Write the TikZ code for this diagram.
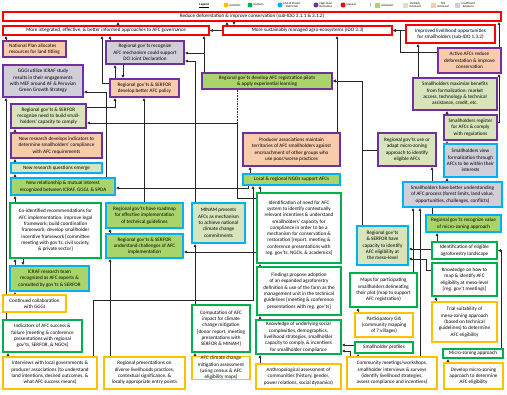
\documentclass[tikz,border=0pt]{standalone}
\usepackage{fontspec}
\setmainfont{Carlito}
\usepackage{tikz}
\usetikzlibrary{arrows.meta, positioning, calc}
\pgfdeclarelayer{bg}
\pgfsetlayers{bg,main}

\definecolor{impred}{HTML}{FF0000}
\definecolor{hlpurple}{HTML}{7030A0}
\definecolor{eopblue}{HTML}{00B0F0}
\definecolor{outgreen}{HTML}{00B050}
\definecolor{actorange}{HTML}{FFC000}
\definecolor{achvfill}{HTML}{A9D46C}
\definecolor{pachfill}{HTML}{D8E4BC}
\definecolor{nachfill}{HTML}{F8CBAD}
\definecolor{insffill}{HTML}{D0CED6}

\tikzset{
  box/.style={draw, line width=2.2pt, align=center, inner xsep=1pt, inner ysep=0pt,
    font=\fontsize{7.3}{9}\selectfont, fill=white},
  impact/.style={box, draw=impred},
  hlo/.style={box, draw=hlpurple},
  eop/.style={box, draw=eopblue},
  outp/.style={box, draw=outgreen},
  activ/.style={box, draw=actorange},
  achv/.style={fill=achvfill},
  pach/.style={fill=pachfill},
  nach/.style={fill=nachfill},
  insf/.style={fill=insffill},
  link/.style={draw=black!85, line width=1.3pt, -{Latex[length=4.5pt,width=4.5pt]}},
  lgd/.style={font=\fontsize{4.3}{4.6}\selectfont, align=center, inner sep=0.5pt, anchor=west},
  lgdot/.style={circle, inner sep=0pt, minimum size=0.25cm},
  lgsq/.style={rectangle, inner sep=0pt, minimum size=0.25cm}
}

% box from its corners (pixel units)
\newcommand\tocbox[7]{%
  \pgfmathsetmacro\bxc{(#3+#5)/2}\pgfmathsetmacro\byc{(#4+#6)/2}%
  \pgfmathsetmacro\bxw{(#5-#3)*0.05}\pgfmathsetmacro\bxh{(#6-#4)*0.05}%
  \node[#2, minimum width=\bxw cm, minimum height=\bxh cm] (#1) at (\bxc,\byc) {#7};}

\begin{document}
\begin{tikzpicture}[x=0.05cm, y=-0.05cm]
  \useasboundingbox (0,0) rectangle (507,394);

  % legend
  \node[lgd, font=\fontsize{4.5}{5}\selectfont\bfseries] (legend) at (199,5) {\underline{Legend}};
  \node[lgdot, fill=actorange] (dotact) at (226,5) {};
  \node[lgd] (lgact) at (229,5) {Activities};
  \node[lgdot, fill=outgreen] (dotout) at (250,5) {};
  \node[lgd] (lgout) at (253,5) {Outputs};
  \node[lgdot, fill=eopblue] (doteop) at (280,5) {};
  \node[lgd] (lgeop) at (283,5) {End of Project\\Outcomes};
  \node[lgdot, fill=hlpurple] (dothlo) at (316,5) {};
  \node[lgd] (lghlo) at (319,5) {High-level\\Outcomes};
  \node[lgdot, fill=impred] (dotimp) at (343,5) {};
  \node[lgd] (lgimp) at (346,5) {Impacts};
  \node[lgd, font=\fontsize{6}{6}\selectfont] (lgsep) at (369,5) {|};
  \node[lgsq, fill=achvfill] (sqachv) at (377,5) {};
  \node[lgd] (lgachv) at (381,5) {Achieved};
  \node[lgsq, fill=pachfill] (sqpach) at (405,5) {};
  \node[lgd] (lgpach) at (409,5) {Partially\\Achieved};
  \node[lgsq, fill=nachfill] (sqnach) at (433,5) {};
  \node[lgd] (lgnach) at (437,5) {Not\\Achieved};
  \node[lgsq, fill=insffill] (sqinsf) at (457,5) {};
  \node[lgd] (lginsf) at (461,5) {Insufficient\\Evidence};

  % impacts
  \tocbox{reduce}{impact}{3}{12}{501}{21}{Reduce deforestation \& improve conservation (sub-IDO 3.1.1 \& 3.1.2)}
  \tocbox{integ}{impact}{3}{26}{209}{35}{More integrated, effective, \& better informed approaches to AFC governance}
  \tocbox{sustain}{impact}{223}{26}{392}{35}{More sustainably managed agro-ecosystems (IDO 3.3)}
  \tocbox{livel}{impact}{406}{25}{495}{43}{Improved livelihood opportunities\\for smallholders (sub-IDO 1.3.2)}

  % high-level outcomes
  \tocbox{natplan}{hlo,nach,align=left}{3}{41}{66}{57}{National Plan allocates\\resources for land titling}
  \tocbox{dci}{hlo,insf}{106}{41}{184}{64}{Regional gov'ts recognize\\AFC mechanism could support\\DCI Joint Declaration}
  \tocbox{gggi}{hlo,insf}{3}{65}{83}{97}{GGGI utilize ICRAF study\\results in their engagements\\with MEF around AF \& Peruvian\\Green Growth Strategy}
  \tocbox{policy}{hlo,nach}{110}{79}{179}{97}{Regional gov'ts \& SERFOR\\develop better AFC policy}
  \tocbox{pilots}{hlo,achv}{202}{73}{332}{89}{Regional gov'ts develop AFC registration pilots\\\& apply experiential learning}
  \tocbox{active}{hlo,nach}{438}{48}{501}{73}{Active AFCs reduce\\deforestation \& improve\\conservation}
  \tocbox{maxim}{hlo,pach}{413}{78}{497}{110}{Smallholders maximize benefits\\from formalization: market\\access, technology \& technical\\assistance, credit, etc.}
  \tocbox{needcap}{hlo,pach}{11}{104}{86}{128}{Regional gov'ts \& SERFOR\\recognize need to build small-\\holders' capacity to comply}
  \tocbox{indic}{hlo,nach}{11}{133}{102}{158}{New research develops indicators to\\determine smallholders' compliance\\with AFC requirements}
  \tocbox{producer}{hlo,nach}{243}{133}{340}{166}{Producer associations maintain\\territories of AFC smallholders against\\encroachment of other groups who\\use poor/worse practices}
  \tocbox{register}{hlo,pach}{444}{115}{497}{140}{Smallholders register\\for AFCs \& comply\\with regulations}
  \tocbox{usemz}{hlo,pach}{378}{133}{436}{166}{Regional gov'ts use or\\adapt micro-zoning\\approach to identify\\eligible AFCs}

  % end of project outcomes
  \tocbox{view}{eop,insf}{444}{144}{497}{177}{Smallholders view\\formalization through\\AFCs to be within their\\interests}
  \tocbox{questions}{eop,pach}{11}{163}{102}{173}{New research questions emerge}
  \tocbox{ngos}{eop,achv}{243}{174}{340}{185}{Local \& regional NGOs support AFCs}
  \tocbox{relation}{eop,achv}{11}{178}{115}{195}{New relationship \& mutual interest\\recognized between ICRAF, GGGI, \& SPDA}
  \tocbox{underst}{eop,insf}{403}{182}{502}{207}{Smallholders have better understanding\\of AFC process (forest limits, land value,\\opportunities, challenges, conflicts)}
  \tocbox{roadmap}{eop,achv}{106}{203}{183}{228}{Regional gov'ts have roadmap\\for effective implementation\\of technical guidelines}
  \tocbox{minam}{eop,pach}{192}{203}{245}{243}{MINAM presents\\AFCs as mechanism\\to achieve national\\climate change\\commitments}
  \tocbox{recval}{eop,achv}{426}{215}{501}{232}{Regional gov'ts recognize value\\of micro-zoning approach}
  \tocbox{challenges}{eop,achv}{106}{234}{183}{258}{Regional gov'ts \& SERFOR\\understand challenges of AFC\\implementation}
  \tocbox{capacity}{eop,pach}{357}{226}{408}{265}{Regional gov'ts\\\& SERFOR have\\capacity to identify\\AFC eligibility at\\the meso-level}
  \tocbox{icraf}{eop,achv}{10}{266}{89}{291}{ICRAF research team\\recognized as AFC experts \&\\consulted by gov'ts \& SERFOR}

  % outputs
  \tocbox{coid}{outp}{10}{203}{101}{258}{Co-identified recommendations for\\AFC implementation: improve legal\\framework; build coordination\\framework; develop smallholder\\incentive framework {[committee}\\meeting with gov'ts, civil society,\\\& private sector]}
  \tocbox{need}{outp}{257}{193}{341}{263}{Identification of need for AFC\\system to identify contextually\\relevant incentives \& understand\\smallholders' capacity for\\compliance in order to be a\\mechanism for conservation \&\\restoration {[report}, meeting \&\\conference presentations with\\reg. gov'ts, NGOs, \& academics]}
  \tocbox{eligible}{outp}{432}{242}{497}{259}{Identification of eligible\\agroforestry landscape}
  \tocbox{knowmap}{outp}{432}{263}{497}{296}{Knowledge on how to\\map \& identify AFC\\eligibility at meso-level\\{[reg. gov't meetings]}}
  \tocbox{findings}{outp}{257}{267}{341}{315}{Findings propose adoption\\of an expanded agroforestry\\definition \& use of the farm as the\\management unit in the technical\\guidelines {[meeting} \& conference\\presentations with reg. gov'ts]}
  \tocbox{maps}{outp}{350}{273}{417}{307}{Maps for participating\\smallholders delineating\\their plot (map to support\\AFC registration)}
  \tocbox{comput}{outp}{192}{305}{250}{352}{Computation of AFC\\impact for climate\\change mitigation\\{[donor report, meeting}\\presentations with\\SERFOR \& MINAM]}
  \tocbox{indicat}{outp}{3}{320}{82}{352}{Indicators of AFC success \&\\failure {[meeting} \& conference\\presentations with regional\\gov'ts, SERFOR, \& NGOs]}
  \tocbox{social}{outp}{256}{320}{341}{354}{Knowledge of underlying social\\complexities, demographics,\\livelihood strategies, smallholder\\capacity to comply, \& incentives\\for smallholder compliance}
  \tocbox{profiles}{outp}{355}{342}{413}{353}{Smallholder profiles}
  \tocbox{microz}{outp}{443}{349}{503}{358}{Micro-zoning approach}

  % activities
  \tocbox{collab}{activ}{3}{295}{66}{312}{Continued collaboration\\with GGGI}
  \tocbox{trial}{activ}{432}{302}{497}{342}{Trial suitability of\\meso-zoning approach\\(based on technical\\guidelines) to determine\\AFC eligibility}
  \tocbox{gis}{activ}{355}{313}{413}{337}{Participatory GIS\\(community mapping\\of 7 villages)}
  \tocbox{interv}{activ}{3}{357}{97}{389}{Interviews with local governments \&\\producer associations (to understand\\land intentions, desired outcomes, \&\\what AFC success means)}
  \tocbox{present}{activ}{104}{357}{185}{389}{Regional presentations on\\diverse livelihoods practices,\\contextual significance, \&\\locally appropriate entry points}
  \tocbox{assess}{activ}{192}{357}{250}{379}{AFC climate change\\mitigation assessment\\(using census \& AFC\\eligibility maps)}
  \tocbox{anthro}{activ}{256}{364}{341}{389}{Anthropological assessment of\\communities (history, gender,\\power relations, social dynamics)}
  \tocbox{commun}{activ}{347}{357}{437}{389}{Community meetings/workshops,\\smallholder interviews \& surveys\\(identify livelihood strategies,\\assess compliance and incentives)}
  \tocbox{devmz}{activ}{444}{363}{503}{389}{Develop micro-zoning\\approach to determine\\AFC eligibility}

  \begin{pgfonlayer}{bg}
    % top of the chain
    \draw[link] (integ.north -| 118,0) -- (reduce.south -| 118,0);
    \draw[link] (sustain.north -| 227,0) -- (reduce.south -| 227,0);
    \draw[link] (reduce.south -| 234,0) -- (sustain.north -| 234,0);
    \draw[link] (active.north -| 499,0) -- (reduce.south -| 499,0);
    \draw[link] (sustain.west) -- (integ.east);
    \draw[link] (livel.west |- sustain) -- (sustain.east);
    \draw[link] (active.west |- 0,52) -| (sustain.east -| 400,0) -- (sustain.east);
    \draw[link] (maxim.north -| 418,0) -- (livel.south -| 418,0);
    \draw[link] (register.north -| 447,0) -- (maxim.south -| 447,0);
    \draw[link] (view.north -| 447,0) -- (register.south -| 447,0);
    \draw[link] (underst.north -| 447,0) -- (view.south -| 447,0);
    \draw[link] (register.east |- 0,122) -| (499,0 |- active.south);
    \draw[link] (producer.north -| 337,0) -- (sustain.south -| 337,0);

    % pilots and policy
    \draw[link] (capacity.north -| 362,0) |- (pilots.east);
    \draw[link] (usemz.west |- 0,150) -| (pilots.east -| 362,0) -- (pilots.east);
    \draw[link] (pilots.north -| 204,0) -- (integ.south -| 204,0);
    \draw[link] (pilots.north -| 204,0) |- (dci.east |- 0,53);
    \draw[draw=black!85, line width=1.3pt, densely dotted] (pilots.south -| 237,0) -- (237,123);
    \draw[link] (need.west |- 0,198) -| (237,123) -- (needcap.east |- 0,123);
    \draw[link] (needcap.east |- 0,107) -| (policy.south -| 115,0);
    \draw[link] (policy.north -| 115,0) -- (dci.south -| 115,0);
    \draw[link] (dci.south -| 123,0) -- (policy.north -| 123,0);
    \draw[link] (dci.north -| 110,0) -- (integ.south -| 110,0);
    \draw[link] (policy.west |- 0,83) -| (integ.south -| 102,0);
    \draw[link] (relation.north -| 106,0) |- (gggi.east |- 0,92);
    \draw[link] (natplan.north -| 6,0) -- (integ.south -| 6,0);
    \draw[link] (roadmap.north -| 144,0) -- (policy.south -| 144,0);
    \draw[link] (minam.north -| 195,0) |- (dci.east |- 0,61);

    % left column
    \draw[link] (indicat.north -| 6,0) -- (gggi.south -| 6,0);
    \draw[link] (relation.north -| 15,0) -- (questions.south -| 15,0);
    \draw[link] (questions.north -| 15,0) -- (indic.south -| 15,0);
    \draw[link] (indic.north -| 15,0) -- (needcap.south -| 15,0);
    \draw[link] (coid.north -| 15,0) -- (relation.south -| 15,0);
    \draw[link] (icraf.north -| 15,0) -- (coid.south -| 15,0);
    \draw[link] (coid.south -| 23,0) -- (icraf.north -| 23,0);
    \draw[link] (collab.north -| 15,0) -- (icraf.south -| 15,0);
    \draw[link] (interv.north -| 8,0) -- (indicat.south -| 8,0);

    % middle columns
    \draw[link] (challenges.north -| 110,0) -- (roadmap.south -| 110,0);
    \draw[link] (present.north -| 110,0) -- (challenges.south -| 110,0);
    \draw[link] (need.west |- 0,252) -- (challenges.east |- 0,252);
    \draw[link] (comput.north -| 195,0) -- (minam.south -| 195,0);
    \draw[link] (assess.north -| 195,0) -- (comput.south -| 195,0);
    \draw[link] (interv.north -| 93,0) |- (253,300) -- (ngos.south -| 253,0);
    \draw[link] (ngos.south -| 248,0) |- (relation.east |- 0,188);
    \draw[link] (ngos.north -| 250,0) -- (producer.south -| 250,0);
    \draw[link] (need.north -| 260,0) -- (ngos.south -| 260,0);
    \draw[link] (findings.north -| 260,0) -- (need.south -| 260,0);
    \draw[link] (social.north -| 260,0) -- (findings.south -| 260,0);
    \draw[link] (anthro.north -| 260,0) -- (social.south -| 260,0);
    \draw[link] (profiles.west |- 0,345) -- (social.east |- 0,345);
    \draw[link] (commun.north -| 350,0) |- (social.east |- 0,351);
    \draw[link] (commun.north -| 358,0) -- (profiles.south -| 358,0);
    \draw[link] (gis.north -| 358,0) -- (maps.south -| 358,0);

    % right columns
    \draw[link] (maps.north -| 413,0) -- (underst.south -| 413,0);
    \draw[link] (commun.north -| 420,0) -- (underst.south -| 420,0);
    \draw[link] (recval.north -| 432,0) -- (usemz.south -| 432,0);
    \draw[link] (eligible.north -| 437,0) -- (recval.south -| 437,0);
    \draw[link] (eligible.west |- 0,249) -- (capacity.east |- 0,249);
    \draw[link] (knowmap.west |- 0,270) -| (426,259) -- (capacity.east |- 0,259);
    \draw[link] (trial.north -| 436,0) -- (knowmap.south -| 436,0);
    \draw[link] (microz.north -| 501,0) |- (eligible.east);
    \draw[link] (devmz.north -| 448,0) -- (microz.south -| 448,0);
  \end{pgfonlayer}
\end{tikzpicture}
\end{document}
